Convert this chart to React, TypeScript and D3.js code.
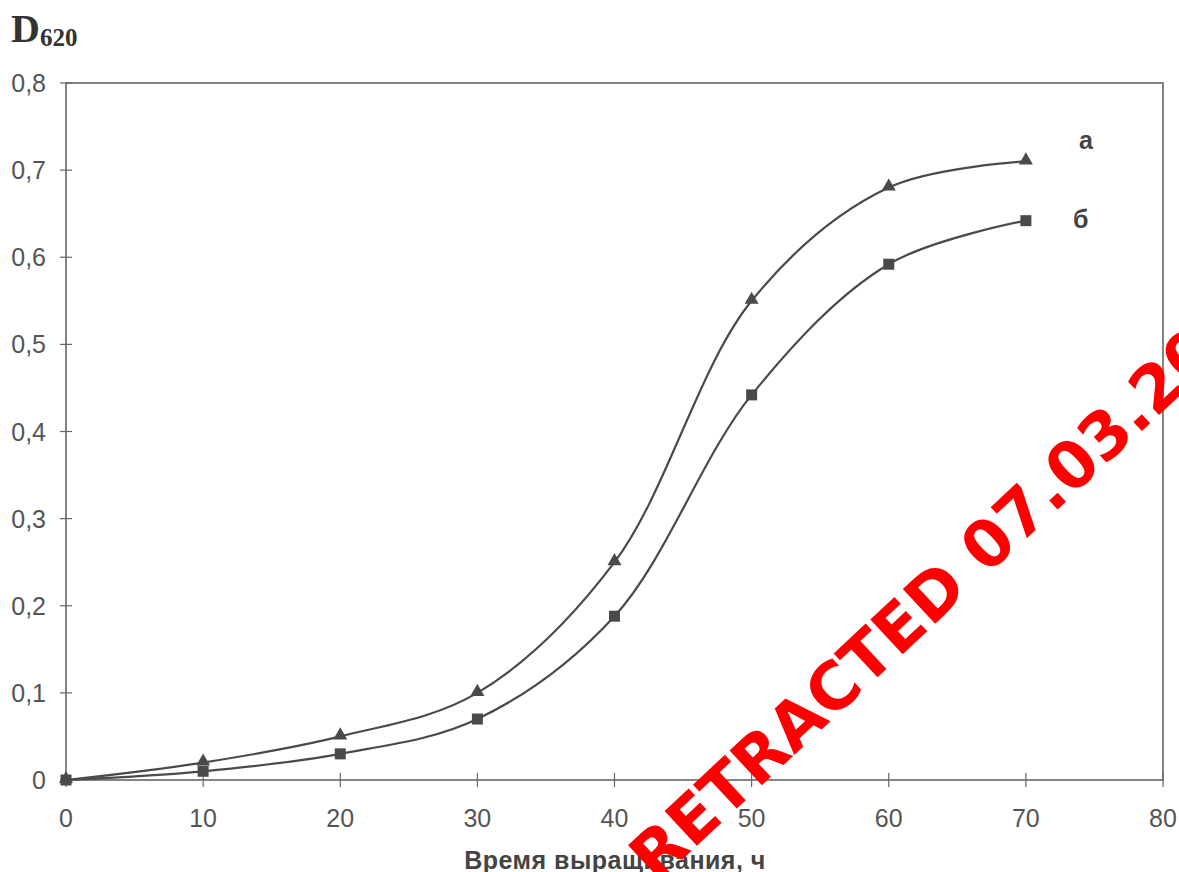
import React from "react";
import * as d3 from "d3";

const hours = [0, 10, 20, 30, 40, 50, 60, 70];
const seriesA = [0, 0.02, 0.05, 0.1, 0.25, 0.55, 0.68, 0.71];
const seriesB = [0, 0.01, 0.03, 0.07, 0.188, 0.442, 0.592, 0.642];
const xTicks = [0, 10, 20, 30, 40, 50, 60, 70, 80];
const yTicks = [0, 0.1, 0.2, 0.3, 0.4, 0.5, 0.6, 0.7, 0.8];
const seriesLabels = ["а", "б"];
const xTitle = "Время выращивания, ч";
const watermark = "RETRACTED 07.03.2019";

const W = 1179;
const H = 872;
const L = 66, R = 1163, T = 83, B = 780;

export default function App() {
  const x = d3.scaleLinear().domain([0, 80]).range([L, R]);
  const y = d3.scaleLinear().domain([0, 0.8]).range([B, T]);
  const line = d3
    .line<number>()
    .x((_, i) => x(hours[i]))
    .y((d) => y(d))
    .curve(d3.curveCatmullRom.alpha(0.5));
  const lineColor = "#4a4a4a";
  const axisColor = "#666";
  const textColor = "#555";
  const fmt = (v: number) => (v === 0 ? "0" : d3.format(".1f")(v).replace(".", ","));
  const tri = d3.symbol().type(d3.symbolTriangle).size(85)();
  return (
    <svg
      width={W}
      height={H}
      style={{ position: "absolute", left: 0, top: 0, background: "#fff" }}
      fontFamily="'Liberation Sans', Arial, sans-serif"
    >
      <rect x={0} y={0} width={W} height={H} fill="#fff" />
      {/* frame */}
      <rect x={L} y={T} width={R - L} height={B - T} fill="none" stroke={axisColor} strokeWidth={1.6} />
      {/* y ticks */}
      {yTicks.map((t) => (
        <g key={"y" + t}>
          <line x1={L - 6} x2={L + 6} y1={y(t)} y2={y(t)} stroke={axisColor} strokeWidth={1.2} />
          <text x={46} y={y(t) + 9} textAnchor="end" fontSize={25} fill={textColor}>
            {fmt(t)}
          </text>
        </g>
      ))}
      {/* x ticks */}
      {xTicks.map((t) => (
        <g key={"x" + t}>
          <line x1={x(t)} x2={x(t)} y1={B - 7} y2={B + 7} stroke={axisColor} strokeWidth={1.2} />
          <text x={x(t)} y={827} textAnchor="middle" fontSize={25} fill={textColor}>
            {t}
          </text>
        </g>
      ))}
      {/* lines */}
      <path d={line(seriesA) || ""} fill="none" stroke={lineColor} strokeWidth={2.2} />
      <path d={line(seriesB) || ""} fill="none" stroke={lineColor} strokeWidth={2.2} />
      {seriesA.map((v, i) => (
        <path key={"a" + i} d={tri || ""} transform={`translate(${x(hours[i])},${y(v) - 1})`} fill={lineColor} />
      ))}
      {seriesB.map((v, i) => (
        <rect key={"b" + i} x={x(hours[i]) - 5.5} y={y(v) - 5.5} width={11} height={11} fill={lineColor} />
      ))}
      {/* series labels */}
      <text x={1079} y={149} fontSize={25} fontWeight="bold" fill="#444">
        {seriesLabels[0]}
      </text>
      <text x={1073} y={228} fontSize={25} fontWeight="bold" fill="#444">
        {seriesLabels[1]}
      </text>
      {/* y title */}
      <text x={11} y={42} fontFamily="'Liberation Serif', 'Times New Roman', serif" fontWeight="bold" fontSize={40} fill="#333">
        D
        <tspan fontSize={25} dy={4}>620</tspan>
      </text>
      {/* x title */}
      <text x={615} y={869} textAnchor="middle" fontSize={25} letterSpacing={0.5} fontWeight="bold" fill="#444">
        {xTitle}
      </text>
      {/* watermark */}
      <text
        transform="translate(656,884) rotate(-43)"
        fontSize={65}
        fontWeight="bold"
        fill="#ff0000"
        fontFamily="'DejaVu Sans', Verdana, sans-serif"
      >
        {watermark}
      </text>
    </svg>
  );
}
